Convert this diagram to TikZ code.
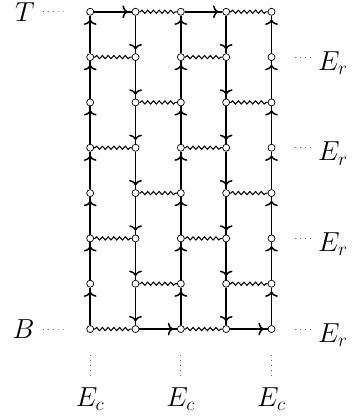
\documentclass[tikz,border=0pt]{standalone}
\usepackage{tikz}
\usetikzlibrary{arrows.meta, positioning, decorations.pathmorphing, decorations.markings}

\begin{document}
\begin{tikzpicture}[
  site/.style={draw, circle, fill=white, inner sep=0pt, minimum size=4.4pt, line width=0.45pt},
  link/.style={line width=0.95pt, postaction={decorate, decoration={markings,
               mark=at position -2.4pt with {\arrow{Computer Modern Rightarrow[width=8pt, length=3.4pt]}}}}},
  wave/.style={line width=0.65pt, decorate, decoration={snake, amplitude=1pt,
               segment length=3.6pt, pre length=0.5pt, post length=0.5pt}},
  dots/.style={line width=0.7pt, dash pattern=on 0.01pt off 3.1pt, line cap=round, black!70},
  lbl/.style={font=\LARGE, inner sep=1pt},
]
  \useasboundingbox (-1.99,-1.94) rectangle (5.83,7.26);

  \foreach \row in {0,...,7}
    \foreach \col in {1,...,5}
      \node[site] (s\row\col) at (\col-1, 7-\row) {};

  \foreach \row [count=\nxt from 1] in {0,...,6} {
    \foreach \col in {1,3,5}
      \draw[link] (s\nxt\col) -- (s\row\col);
    \foreach \col in {2,4}
      \draw[link] (s\row\col) -- (s\nxt\col);
  }

  \foreach \row in {1,3,5,7}
    \foreach \col/\nc in {1/2,3/4}
      \draw[wave] (s\row\col) -- (s\row\nc);
  \foreach \row in {0,2,4,6}
    \foreach \col/\nc in {2/3,4/5}
      \draw[wave] (s\row\col) -- (s\row\nc);

  \draw[link] (s01) -- (s02);
  \draw[link] (s03) -- (s04);
  \draw[link] (s72) -- (s73);
  \draw[link] (s74) -- (s75);

  \node[lbl, left=1.1cm of s01] (top) {$T$};
  \node[lbl, left=1.1cm of s71] (bot) {$B$};
  \draw[dots, shorten <=0.15cm, shorten >=0.45cm] (top) -- (s01);
  \draw[dots, shorten <=0.15cm, shorten >=0.45cm] (bot) -- (s71);

  \foreach \row in {1,3,5,7} {
    \node[lbl, right=0.9cm of s\row5, yshift=-0.13cm] (er\row) {$E_r$};
    \draw[dots, shorten <=0.45cm, shorten >=0.05cm] (s\row5) -- (er\row.west |- s\row5);
  }

  \foreach \col in {1,3,5} {
    \node[lbl, below=1.17cm of s7\col] (ec\col) {$E_c$};
    \draw[dots, shorten <=0.5cm, shorten >=0.23cm] (s7\col) -- (ec\col);
  }
\end{tikzpicture}
\end{document}
